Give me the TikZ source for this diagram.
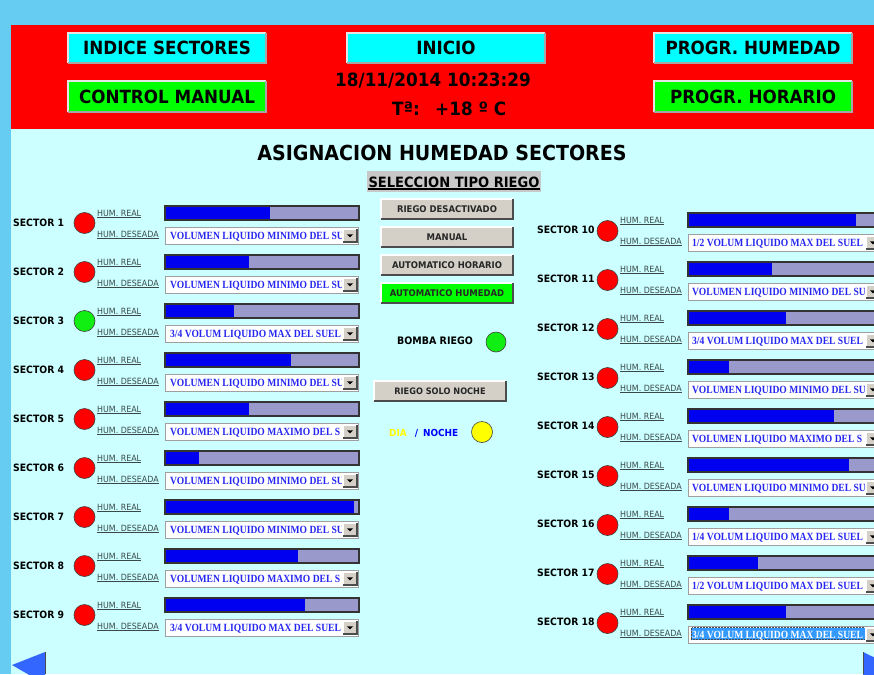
\documentclass[tikz,border=0pt]{standalone}
\usepackage{fontspec}
\setmainfont{DejaVu Sans}[FakeStretch=0.92]
\newfontfamily\hmiddfont{Liberation Serif}[FakeStretch=0.87]
\definecolor{outerblue}{HTML}{66CCF2}
\definecolor{panel}{HTML}{CCFFFF}
\definecolor{hdrred}{HTML}{FF0000}
\definecolor{hcyan}{HTML}{00FFFF}
\definecolor{hgreen}{HTML}{00FF00}
\definecolor{lred}{HTML}{FF0000}
\definecolor{lgreen}{HTML}{11EE11}
\definecolor{lyellow}{HTML}{FFFF00}
\definecolor{barblue}{HTML}{0000F0}
\definecolor{barbg}{HTML}{9999CC}
\definecolor{frameclr}{HTML}{333333}
\definecolor{ddblue}{HTML}{2626F2}
\definecolor{btngray}{HTML}{D4D0C8}
\definecolor{selgray}{HTML}{C8C8C8}
\definecolor{humgray}{HTML}{3A4848}
\definecolor{selblue}{HTML}{3399FF}
\definecolor{arrowblue}{HTML}{3366FF}
\definecolor{nochblue}{HTML}{0000FF}
\newcommand\hmiddm{VOLUMEN LIQUIDO MINIMO DEL SU}
\newcommand\hmiddx{VOLUMEN LIQUIDO MAXIMO DEL S}
\newcommand\hmiddqa{1/4 VOLUM LIQUIDO MAX DEL SUEL}
\newcommand\hmiddqb{1/2 VOLUM LIQUIDO MAX DEL SUEL}
\newcommand\hmiddqc{3/4 VOLUM LIQUIDO MAX DEL SUEL}
\newcommand\hmibevel[3]{%
  \draw[#2,line width=1.2pt] (#1.south west)--(#1.north west)--(#1.north east);
  \draw[#3,line width=1.2pt] (#1.north east)--(#1.south east)--(#1.south west);}
\begin{document}
\begin{tikzpicture}[x=1pt,y=-1pt,
  hdrbtn/.style={minimum width=198pt, inner sep=0pt, outer sep=0pt, text=black,
    font=\fontsize{18.2}{18}\selectfont\bfseries},
  midbtn/.style={fill=btngray, minimum width=132pt, minimum height=20pt, inner sep=0pt,
    outer sep=0pt, text=black!85, font=\fontsize{9.2}{9}\selectfont\bfseries},
  sectlbl/.style={anchor=base west, inner sep=0pt, font=\fontsize{10.1}{10}\selectfont\bfseries},
  humlbl/.style={anchor=base west, inner sep=0pt, text=humgray, font=\fontsize{8.6}{8}\selectfont},
  lamp/.style={circle, draw=black!75, line width=0.6pt, minimum size=21pt, inner sep=0pt},
  barnode/.style={draw=frameclr, line width=1.3pt, fill=barbg, minimum width=194pt,
    minimum height=14pt, inner sep=0pt, outer sep=0pt, anchor=north west},
  ddbox/.style={draw=gray!75, line width=1pt, fill=white, minimum width=193pt,
    minimum height=17pt, inner sep=0pt, outer sep=0pt, anchor=north west},
  ddbtn/.style={fill=btngray, minimum width=14pt, minimum height=13pt, inner sep=0pt,
    outer sep=0pt, anchor=north west},
  ddtext/.style={anchor=base west, inner sep=0pt, font=\hmiddfont\fontsize{11}{11}\selectfont\bfseries}
]
\useasboundingbox (0,0) rectangle (874,674);
\clip (0,0) rectangle (874,674);
% backgrounds
\fill[outerblue] (0,0) rectangle (874,674);
\fill[hdrred] (11,25) rectangle (874,129);
\fill[panel] (11,129) rectangle (874,674);

% header buttons
\node[hdrbtn, fill=hcyan, minimum height=30pt] (indice) at (167,48) {INDICE SECTORES};
\node[hdrbtn, fill=hcyan, minimum height=30pt] (inicio) at (446,48) {INICIO};
\node[hdrbtn, fill=hcyan, minimum height=30pt] (phum) at (753,48) {PROGR. HUMEDAD};
\node[hdrbtn, fill=hgreen, minimum height=31pt] (cman) at (167,96.5) {CONTROL MANUAL};
\node[hdrbtn, fill=hgreen, minimum height=31pt] (phor) at (753,96.5) {PROGR. HORARIO};
\foreach \n in {indice,inicio,phum,cman,phor}{\hmibevel{\n}{gray!20}{gray!70}}

\node[anchor=base, inner sep=0pt, font=\fontsize{18.3}{18}\selectfont\bfseries] (fecha) at (433,87) {18/11/2014 10:23:29};
\node[anchor=base west, inner sep=0pt, font=\fontsize{18.3}{18}\selectfont\bfseries] (tlab) at (392,115) {Tª:};
\node[anchor=base west, inner sep=0pt, font=\fontsize{18.3}{18}\selectfont\bfseries] (tval) at (435,115) {+18 º C};

% title
\node[anchor=base, inner sep=0pt, font=\fontsize{20.7}{20}\selectfont\bfseries] (titulo) at (442,160) {ASIGNACION HUMEDAD SECTORES};
\node[fill=selgray, minimum width=174pt, minimum height=21pt, inner sep=0pt, outer sep=0pt] (selbox) at (454,181.5) {};
\node[anchor=base, inner sep=0pt, font=\fontsize{14.2}{14}\selectfont\bfseries] (seltxt) at (454,187) {SELECCION TIPO RIEGO};
\draw[black, line width=1.3pt] (seltxt.base west) ++(0,2) -- ([yshift=-2pt]seltxt.base east);

% middle buttons
\node[midbtn] (rdes) at (447,209) {RIEGO DESACTIVADO};
\node[midbtn] (rman) at (447,237) {MANUAL};
\node[midbtn] (rhor) at (447,265) {AUTOMATICO HORARIO};
\node[midbtn, fill=hgreen] (rhum) at (447,293) {AUTOMATICO HUMEDAD};
\node[midbtn, font=\fontsize{8.9}{9}\selectfont\bfseries] (rnoche) at (440,391) {RIEGO SOLO NOCHE};
\foreach \n in {rdes,rman,rhor,rhum,rnoche}{\hmibevel{\n}{white}{gray!60!black}}

\node[inner sep=0pt, font=\fontsize{10.3}{10}\selectfont\bfseries] (bomba) at (435,341) {BOMBA RIEGO};
\node[lamp, fill=lgreen, minimum size=20pt] (lbomba) at (496,342) {};
\node[anchor=base west, inner sep=0pt, font=\fontsize{9.7}{9}\selectfont\bfseries] (dianoche) at (389,436)
  {\textcolor{lyellow}{DIA}\hspace{8pt}\textcolor{nochblue}{/\hspace{5pt}NOCHE}};
\node[lamp, fill=lyellow] (ldia) at (482,432) {};

% left sectors
\foreach \i/\fe/\lc/\tc in {1/270/lred/hmiddm, 2/249/lred/hmiddm, 3/234/lgreen/hmiddqc,
  4/291/lred/hmiddm, 5/249/lred/hmiddx, 6/199/lred/hmiddm, 7/354/lred/hmiddm,
  8/298/lred/hmiddx, 9/305/lred/hmiddqc}{
  \pgfmathsetmacro\b{206+49*(\i-1)}
  \node[sectlbl] (lab\i) at (13,\b+20) {SECTOR \i};
  \node[lamp, fill=\lc] (lamp\i) at (84.5,\b+17) {};
  \node[humlbl] (hr\i) at (97,\b+10) {\underline{HUM. REAL}};
  \node[humlbl] (hd\i) at (97,\b+31) {\underline{HUM. DESEADA}};
  \node[barnode] (bar\i) at (165,\b) {};
  \fill[barblue] (165.65,\b+0.65) rectangle (\fe,\b+13.35);
  \node[ddbox] (dd\i) at (165,\b+21) {};
  \begin{scope}
    \clip (167,\b+22) rectangle (342.5,\b+37);
    \node[ddtext, text=ddblue] (ddt\i) at (170,\b+33) {\csname\tc\endcsname};
  \end{scope}
  \node[ddbtn] (ddb\i) at (343,\b+23) {};
  \hmibevel{ddb\i}{white}{gray!60!black}
  \fill[black] (ddb\i.center) ++(-3,-1.2) -- ++(6,0) -- ++(-3,3) -- cycle;
}

% right sectors
\foreach \i/\fe/\tc in {10/856/hmiddqb, 11/772/hmiddm, 12/786/hmiddqc, 13/729/hmiddm,
  14/834/hmiddx, 15/849/hmiddm, 16/729/hmiddqa, 17/758/hmiddqb, 18/786/hmiddqc}{
  \pgfmathsetmacro\b{213+49*(\i-10)}
  \node[sectlbl] (lab\i) at (537,\b+20) {SECTOR \i};
  \node[lamp, fill=lred] (lamp\i) at (607.5,\b+18) {};
  \node[humlbl] (hr\i) at (620,\b+10) {\underline{HUM. REAL}};
  \node[humlbl] (hd\i) at (620,\b+31) {\underline{HUM. DESEADA}};
  \node[barnode] (bar\i) at (688,\b) {};
  \fill[barblue] (688.65,\b+0.65) rectangle (\fe,\b+13.35);
  \node[ddbox] (dd\i) at (688,\b+21) {};
  \def\ddc{ddblue}
  \ifnum\i=18
    \fill[selblue] (691,\b+22.5) rectangle (865,\b+34.5);
    \draw[black!70, densely dotted, line width=0.5pt] (691,\b+22.5) rectangle (865,\b+34.5);
    \def\ddc{white}
  \fi
  \begin{scope}
    \clip (690,\b+22) rectangle (865,\b+37);
    \node[ddtext, text=\ddc] (ddt\i) at (692,\b+33) {\csname\tc\endcsname};
  \end{scope}
  \node[ddbtn] (ddb\i) at (866,\b+23) {};
  \hmibevel{ddb\i}{white}{gray!60!black}
  \fill[black] (ddb\i.center) ++(-3,-1.2) -- ++(6,0) -- ++(-3,3) -- cycle;
}

% navigation arrows
\fill[arrowblue] (12,665) -- (45,652) -- (45,684) -- cycle;
\draw[black!70, line width=1pt] (45,652) -- (45,674);
\fill[arrowblue] (863,652) -- (863,684) -- (896,668) -- cycle;
\draw[black!70, line width=1pt] (863,652) -- (863,674);
\end{tikzpicture}
\end{document}
